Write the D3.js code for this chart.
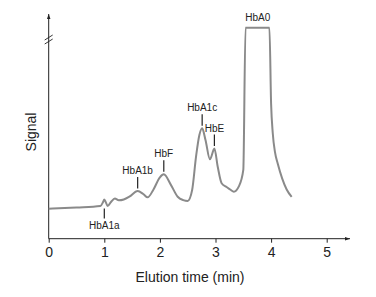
<!DOCTYPE html>
<html>
<head>
<meta charset="utf-8">
<script src="https://cdn.jsdelivr.net/npm/d3@7"></script>
<style>
  body { margin: 0; background: #fff; }
  svg { display: block; font-family: "Liberation Sans", Arial, sans-serif; }
</style>
</head>
<body>
<svg id="chart" width="376" height="297"></svg>
<script>
// Chromatogram trace (time in min, signal in arbitrary units; HbA0 is clipped at 100)
const times = [0, 0.5, 0.93, 0.98, 1.0, 1.03, 1.06, 1.12, 1.19, 1.26, 1.35, 1.45, 1.6, 1.7, 1.78, 1.88,
  2.0, 2.07, 2.2, 2.32, 2.42, 2.5, 2.58, 2.65, 2.71, 2.76, 2.82, 2.9, 2.98, 3.04, 3.11, 3.2, 3.27,
  3.33, 3.42, 3.5, 3.54, 3.97, 4.0, 4.03, 4.07, 4.12, 4.2, 4.28, 4.37];
const signal = [14.2, 14.8, 15.5, 17.5, 18.6, 17.1, 15.5, 17.4, 19.0, 18.2, 18.6, 19.9, 22.6, 21.2, 19.6, 23.1,
  29.1, 30.5, 25.4, 19.9, 18.3, 17.9, 23.1, 38.9, 49.1, 52.3, 46.8, 37.6, 42.7, 34.1, 26.3, 24.5, 23.2,
  22.3, 24.8, 32.6, 100, 100, 64, 50, 41, 35.5, 28.5, 23.3, 19.8];

// Peak labels
const peakNames = ["HbA1a", "HbA1b", "HbF", "HbA1c", "HbE"];
const peakTimes = [1.0, 1.6, 2.07, 2.76, 2.98];
const peakSignals = [18.6, 22.6, 30.5, 52.3, 42.7];
const peakBelow = [true, false, false, false, false];

const xTicks = [0, 1, 2, 3, 4, 5];

const svg = d3.select('#chart');
const margin = {left: 48.7, top: 14, bottom: 238.7};

const x = d3.scaleLinear().domain([0, 5]).range([48.7, 326.7]);
const y = d3.scaleLinear().domain([0, 100]).range([238.7, 27.7]);

const axisColor = '#222';
const lineColor = '#8a8a8a';

// arrow marker
svg.append('defs').append('marker')
    .attr('id', 'arrow')
    .attr('viewBox', '0 0 10 10')
    .attr('refX', 10).attr('refY', 5)
    .attr('markerWidth', 5).attr('markerHeight', 5)
    .attr('orient', 'auto')
  .append('path')
    .attr('d', 'M0,1.5 L10,5 L0,8.5 Z')
    .attr('fill', axisColor);

// x axis
const xAxis = d3.axisBottom(x).tickValues(xTicks).tickSize(4).tickSizeOuter(0).tickFormat(d3.format('d'));
const gx = svg.append('g')
    .attr('transform', `translate(0,${margin.bottom})`)
    .call(xAxis);
gx.select('.domain').remove();
gx.selectAll('.tick line').attr('stroke', axisColor);
gx.selectAll('.tick text')
    .attr('y', 8)
    .attr('fill', axisColor)
    .style('font-size', '14px')
    .style('font-family', '"Liberation Sans", Arial, sans-serif');

svg.append('line')
    .attr('x1', x(0)).attr('x2', 350)
    .attr('y1', margin.bottom).attr('y2', margin.bottom)
    .attr('stroke', axisColor).attr('stroke-width', 1)
    .attr('marker-end', 'url(#arrow)');

// y axis
svg.append('line')
    .attr('x1', x(0)).attr('x2', x(0))
    .attr('y1', margin.bottom).attr('y2', margin.top)
    .attr('stroke', axisColor).attr('stroke-width', 1)
    .attr('marker-end', 'url(#arrow)');

// axis break marks
[-2, 2].forEach(off => {
  svg.append('line')
      .attr('x1', x(0) - 4).attr('y1', 42 + off)
      .attr('x2', x(0) + 4).attr('y2', 37 + off)
      .attr('stroke', axisColor).attr('stroke-width', 0.9);
});

// axis titles
svg.append('text')
    .attr('x', 190).attr('y', 282)
    .attr('text-anchor', 'middle')
    .style('font-size', '14px')
    .attr('fill', axisColor)
    .text('Elution time (min)');

svg.append('text')
    .attr('transform', 'translate(36,132) rotate(-90)')
    .attr('text-anchor', 'middle')
    .style('font-size', '14px')
    .attr('fill', axisColor)
    .text('Signal');

// trace
const data = times.map((t, i) => [t, signal[i]]);
svg.append('path')
    .datum(data)
    .attr('fill', 'none')
    .attr('stroke', lineColor)
    .attr('stroke-width', 2)
    .attr('stroke-linejoin', 'round')
    .attr('d', d3.line().x(d => x(d[0])).y(d => y(d[1])).curve(d3.curveMonotoneX));

// peak labels
peakNames.forEach((name, i) => {
  const px = x(peakTimes[i]);
  const py = y(peakSignals[i]);
  if (peakBelow[i]) {
    svg.append('line')
        .attr('x1', px).attr('x2', px)
        .attr('y1', py + 9).attr('y2', py + 19)
        .attr('stroke', axisColor).attr('stroke-width', 1.2);
    svg.append('text')
        .attr('x', px).attr('y', py + 30)
        .attr('text-anchor', 'middle')
        .style('font-size', '10px')
        .attr('fill', axisColor)
        .text(name);
  } else {
    svg.append('line')
        .attr('x1', px).attr('x2', px)
        .attr('y1', py - 2.5).attr('y2', py - 14)
        .attr('stroke', axisColor).attr('stroke-width', 1.2);
    svg.append('text')
        .attr('x', px).attr('y', py - 17)
        .attr('text-anchor', 'middle')
        .style('font-size', '10px')
        .attr('fill', axisColor)
        .text(name);
  }
});

// HbA0 label over the clipped peak
svg.append('text')
    .attr('x', x(3.76)).attr('y', 21)
    .attr('text-anchor', 'middle')
    .style('font-size', '10px')
    .attr('fill', axisColor)
    .text('HbA0');
</script>
</body>
</html>
